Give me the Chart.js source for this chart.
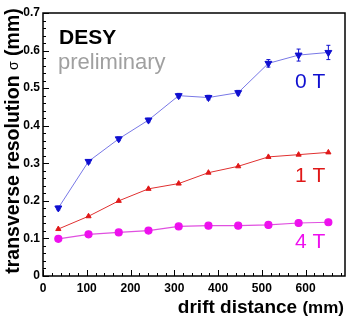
<!DOCTYPE html>
<html>
<head>
<meta charset="utf-8">
<script src="https://cdn.jsdelivr.net/npm/chart.js@4/dist/chart.umd.min.js"></script>
<style>
  html, body { margin: 0; padding: 0; background: #fff; }
  #wrap { width: 354px; height: 321px; }
</style>
</head>
<body>
<div id="wrap"><canvas id="resChart" width="354" height="321"></canvas></div>
<script>
// drift distance (mm)
const distance = [35, 104, 173, 241, 310, 378, 446, 515, 584, 652];
// transverse resolution sigma (mm)
const sigma0T = [0.181, 0.305, 0.365, 0.415, 0.480, 0.475, 0.488, 0.566, 0.588, 0.595];
const err0T   = [0.005, 0.005, 0.005, 0.005, 0.006, 0.006, 0.006, 0.010, 0.016, 0.019];
const sigma1T = [0.125, 0.159, 0.200, 0.232, 0.246, 0.275, 0.292, 0.317, 0.323, 0.329];
const sigma4T = [0.099, 0.111, 0.116, 0.121, 0.132, 0.134, 0.134, 0.136, 0.141, 0.143];
const xTicks = [0, 100, 200, 300, 400, 500, 600];
const yTicks = [0, 0.1, 0.2, 0.3, 0.4, 0.5, 0.6, 0.7];
const fieldLabels = ['0 T', '1 T', '4 T'];
const fieldColors = ['#1010d0', '#e01818', '#ee10ee'];

const pts = ys => distance.map((x, i) => ({ x: x, y: ys[i] }));
const FONT = '"Liberation Sans", Arial, sans-serif';

// inward ticks, frame, error bars, labels and axis titles
const decor = {
  id: 'decor',
  afterDatasetsDraw(chart) {
    const { ctx, chartArea: a, scales: { x, y } } = chart;
    ctx.save();
    // error bars for 0 T
    ctx.strokeStyle = '#1010d0';
    ctx.lineWidth = 1;
    distance.forEach((d, i) => {
      const px = x.getPixelForValue(d);
      const top = y.getPixelForValue(sigma0T[i] + err0T[i]);
      const bot = y.getPixelForValue(sigma0T[i] - err0T[i]);
      ctx.beginPath();
      ctx.moveTo(px, top); ctx.lineTo(px, bot);
      ctx.moveTo(px - 2, top); ctx.lineTo(px + 2, top);
      ctx.moveTo(px - 2, bot); ctx.lineTo(px + 2, bot);
      ctx.stroke();
    });
    // frame
    ctx.strokeStyle = '#000';
    ctx.lineWidth = 1.5;
    ctx.strokeRect(a.left, a.top, a.right - a.left, a.bottom - a.top);
    // inward ticks
    ctx.lineWidth = 1;
    for (let v = 0; v <= 680; v += 20) {
      const px = Math.round(x.getPixelForValue(v)) + 0.5;
      const len = v % 100 === 0 ? 6 : 3;
      ctx.beginPath();
      ctx.moveTo(px, a.bottom); ctx.lineTo(px, a.bottom - len);
      ctx.stroke();
    }
    for (let k = 0; k <= 35; k++) {
      const py = Math.round(y.getPixelForValue(k * 0.02)) + 0.5;
      const len = k % 5 === 0 ? 6 : 3;
      ctx.beginPath();
      ctx.moveTo(a.left, py); ctx.lineTo(a.left + len, py);
      ctx.stroke();
    }
    // DESY preliminary
    ctx.textAlign = 'left';
    ctx.textBaseline = 'alphabetic';
    ctx.fillStyle = '#000';
    ctx.font = 'bold 21px ' + FONT;
    ctx.fillText('DESY', 59, 44);
    ctx.fillStyle = '#a0a0a0';
    ctx.font = '22px ' + FONT;
    ctx.fillText('preliminary', 58, 69);
    // field labels
    ctx.font = '21px ' + FONT;
    const ly = [88, 182, 248];
    fieldLabels.forEach((t, i) => {
      ctx.fillStyle = fieldColors[i];
      ctx.fillText(t, 295, ly[i]);
    });
    // x title
    ctx.fillStyle = '#000';
    ctx.textAlign = 'right';
    ctx.font = 'bold 17px ' + FONT;
    const mmW = ctx.measureText('(mm)').width;
    ctx.fillText('(mm)', 344, 313);
    ctx.font = 'bold 19px ' + FONT;
    ctx.fillText('drift distance ', 344 - mmW, 313);
    // y title (rotated)
    ctx.translate(19, 141);
    ctx.rotate(-Math.PI / 2);
    ctx.textAlign = 'left';
    const p1 = 'transverse resolution ';
    const p3 = ' (mm)';
    ctx.font = 'bold 19.5px ' + FONT;
    const w1 = ctx.measureText(p1).width;
    const w3 = ctx.measureText(p3).width;
    ctx.font = '14px ' + FONT;
    const w2 = ctx.measureText('\u03c3').width;
    let sx = -(w1 + w2 + w3) / 2;
    ctx.font = 'bold 19.5px ' + FONT;
    ctx.fillText(p1, sx, 0);
    ctx.font = '14px ' + FONT;
    ctx.fillText('\u03c3', sx + w1, -1);
    ctx.font = 'bold 19.5px ' + FONT;
    ctx.fillText(p3, sx + w1 + w2, 0);
    ctx.restore();
  }
};

new Chart(document.getElementById('resChart'), {
  type: 'scatter',
  data: {
    datasets: [
      {
        label: '0 T', data: pts(sigma0T), showLine: true,
        borderColor: '#7878e6', borderWidth: 1,
        pointStyle: 'triangle', rotation: 180, pointRadius: 4,
        pointBackgroundColor: '#1010d0', pointBorderColor: '#1010d0'
      },
      {
        label: '1 T', data: pts(sigma1T), showLine: true,
        borderColor: '#e03030', borderWidth: 1,
        pointStyle: 'triangle', pointRadius: 3,
        pointBackgroundColor: '#e01818', pointBorderColor: '#e01818'
      },
      {
        label: '4 T', data: pts(sigma4T), showLine: true,
        borderColor: '#e050e0', borderWidth: 1.2,
        pointStyle: 'circle', pointRadius: 3.5,
        pointBackgroundColor: '#ee10ee', pointBorderColor: '#ee10ee'
      }
    ]
  },
  options: {
    responsive: false,
    animation: false,
    layout: { padding: { top: 13, right: 9, left: 0, bottom: 0 } },
    plugins: { legend: { display: false }, tooltip: { enabled: false } },
    scales: {
      x: {
        type: 'linear', min: 0, max: 690,
        grid: { display: false, drawTicks: false }, border: { display: false },
        afterBuildTicks: s => { s.ticks = xTicks.map(v => ({ value: v })); },
        ticks: {
          autoSkip: false, padding: 5, color: '#000', maxRotation: 0,
          font: { family: FONT, size: 12, weight: 'bold' },
          callback: v => String(v)
        },
        afterFit: s => { s.height = 45; }
      },
      y: {
        type: 'linear', min: 0, max: 0.7,
        grid: { display: false, drawTicks: false }, border: { display: false },
        afterBuildTicks: s => { s.ticks = yTicks.map(v => ({ value: v })); },
        ticks: {
          autoSkip: false, padding: 3, color: '#000',
          font: { family: FONT, size: 12, weight: 'bold' },
          callback: v => (v === 0 ? '0' : v.toFixed(1))
        },
        afterFit: s => { s.width = 43; }
      }
    }
  },
  plugins: [decor]
});
</script>
</body>
</html>
